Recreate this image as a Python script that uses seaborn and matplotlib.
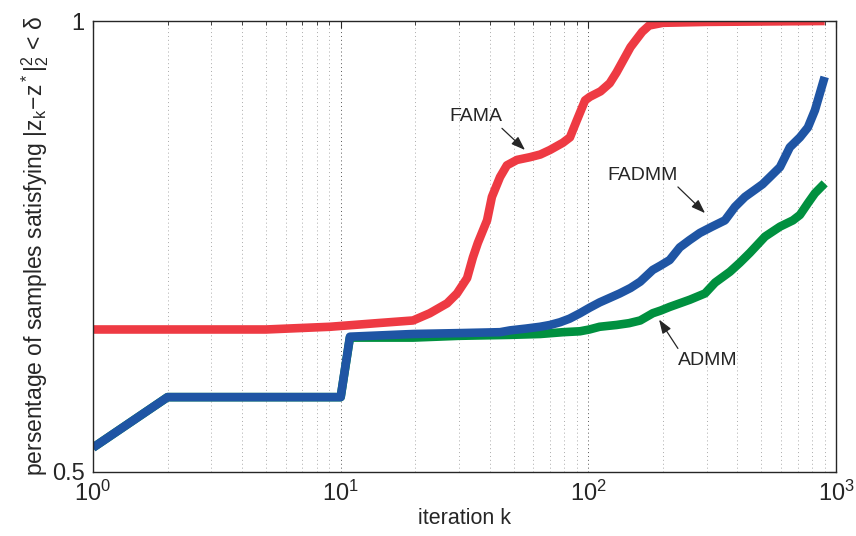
import matplotlib
matplotlib.use("Agg")
import matplotlib.pyplot as plt
import seaborn as sns
import pandas as pd
import numpy as np
from matplotlib.ticker import LogLocator, NullLocator, NullFormatter

# ---- data ----
fama_k = [1, 5, 9.05, 14.0, 19.6, 22.9, 26.9, 29.5, 32.4, 34.2, 35.8, 39.0, 40.8, 44.0,
          46.9, 51.5, 58.1, 64.0, 70.0, 78.9, 84.3, 89.9, 97.0, 101.5, 112, 122, 130, 148,
          165, 176, 200, 300, 900]
fama_v = [0.658, 0.658, 0.661, 0.665, 0.668, 0.676, 0.687, 0.698, 0.715, 0.738, 0.754,
          0.779, 0.805, 0.827, 0.840, 0.846, 0.849, 0.852, 0.857, 0.865, 0.871, 0.890,
          0.912, 0.916, 0.922, 0.931, 0.943, 0.971, 0.988, 0.995, 0.998, 0.999, 1.0]

fadmm_k = [1, 2, 10, 10.9, 19.6, 30.3, 44, 48.3, 56, 63.8, 70, 76.8, 84, 92.5, 101, 111,
           122, 134, 148, 162, 182, 196, 213, 234, 256, 282, 316, 356, 391, 429, 471, 505,
           541, 594, 622, 651, 715, 770, 822, 900]
fadmm_v = [0.527, 0.583, 0.583, 0.650, 0.653, 0.654, 0.655, 0.657, 0.659, 0.661, 0.663,
           0.666, 0.670, 0.676, 0.682, 0.688, 0.693, 0.698, 0.704, 0.711, 0.724, 0.729,
           0.735, 0.749, 0.757, 0.765, 0.772, 0.779, 0.794, 0.805, 0.813, 0.819, 0.827,
           0.838, 0.849, 0.860, 0.871, 0.882, 0.901, 0.938]

admm_k = [1, 2, 10, 10.9, 19.6, 30.3, 48, 64, 79, 92.5, 101, 111, 120, 130, 146, 162, 182,
          196, 213, 234, 257, 296, 325, 373, 409, 449, 517, 594, 670, 715, 770, 822, 900]
admm_v = [0.527, 0.583, 0.583, 0.649, 0.649, 0.651, 0.652, 0.653, 0.655, 0.656, 0.658,
          0.661, 0.662, 0.663, 0.665, 0.668, 0.676, 0.679, 0.683, 0.687, 0.691, 0.698,
          0.710, 0.722, 0.732, 0.743, 0.761, 0.772, 0.779, 0.785, 0.798, 0.809, 0.820]

x_ticks = [1, 10, 100, 1000]
y_ticks = [0.5, 1.0]
y_ticklabels = ["0.5", "1"]

colors = {"ADMM": "#00903f", "FADMM": "#1f55a4", "FAMA": "#ee3a43"}

df = pd.concat([
    pd.DataFrame({"k": admm_k, "v": admm_v, "method": "ADMM"}),
    pd.DataFrame({"k": fadmm_k, "v": fadmm_v, "method": "FADMM"}),
    pd.DataFrame({"k": fama_k, "v": fama_v, "method": "FAMA"}),
])

sns.set_theme(style="white")
plt.rcParams["font.family"] = ["Liberation Sans", "DejaVu Sans"]
plt.rcParams["mathtext.fontset"] = "custom"
plt.rcParams["mathtext.rm"] = "Liberation Sans"
plt.rcParams["mathtext.it"] = "Liberation Sans:italic"
plt.rcParams["mathtext.sf"] = "Liberation Sans"

fig = plt.figure(figsize=(8.56, 5.36), dpi=100)
ax = fig.add_axes([93/856, 1 - 472/536, (836-93)/856, (472-21)/536])

for m in ["ADMM", "FADMM", "FAMA"]:
    sub = df[df["method"] == m]
    sns.lineplot(data=sub, x="k", y="v", ax=ax, color=colors[m], lw=6.2,
                 estimator=None, sort=True, legend=False, solid_capstyle="butt",
                 solid_joinstyle="round")

ax.set_xscale("log")
ax.set_xlim(1, 1000)
ax.set_ylim(0.5, 1.0)
ax.set_xticks(x_ticks)
ax.xaxis.set_minor_locator(LogLocator(base=10, subs=np.arange(2, 10)))
ax.xaxis.set_minor_formatter(NullFormatter())
ax.set_yticks(y_ticks)
ax.set_yticklabels(y_ticklabels)
ax.yaxis.set_minor_locator(NullLocator())

ax.grid(False)
ax.grid(True, axis="x", which="major", linestyle=(0, (1, 3)), color="#555555", lw=0.7)
ax.grid(True, axis="x", which="minor", linestyle=(0, (1, 3)), color="#aaaaaa", lw=0.7)
ax.set_axisbelow(True)

for s in ax.spines.values():
    s.set_color("#262626")
    s.set_linewidth(1.0)

ax.tick_params(axis="both", which="both", direction="in", top=True, right=True,
               colors="#262626", labelcolor="#262626")
ax.tick_params(axis="both", which="major", length=5, width=0.8, labelsize=17, pad=6)
ax.tick_params(axis="x", which="minor", length=3, width=0.6)

ax.set_xlabel("iteration k", fontsize=15.5, color="#262626", labelpad=2)
ax.set_ylabel(r"persentage of samples satisfying $\mathrm{|z_k\!-\!z^*|_2^2}$ < δ",
              fontsize=16.5, color="#262626", labelpad=1)

arrowprops = dict(arrowstyle="-|>,head_length=0.7,head_width=0.25", color="#262626", lw=0.9,
                  shrinkA=0, shrinkB=0)
ax.annotate("", xy=(55.5, 0.857), xytext=(44.8, 0.881), arrowprops=arrowprops)
ax.text(35.2, 0.894, "FAMA", fontsize=14, ha="center", va="center", color="#262626")
ax.annotate("", xy=(296, 0.787), xytext=(230, 0.816), arrowprops=arrowprops)
ax.text(166, 0.829, "FADMM", fontsize=14, ha="center", va="center", color="#262626")
ax.annotate("", xy=(193, 0.669), xytext=(230, 0.637), arrowprops=arrowprops)
ax.text(304, 0.624, "ADMM", fontsize=14, ha="center", va="center", color="#262626")

fig.savefig("out.png", dpi=100)
